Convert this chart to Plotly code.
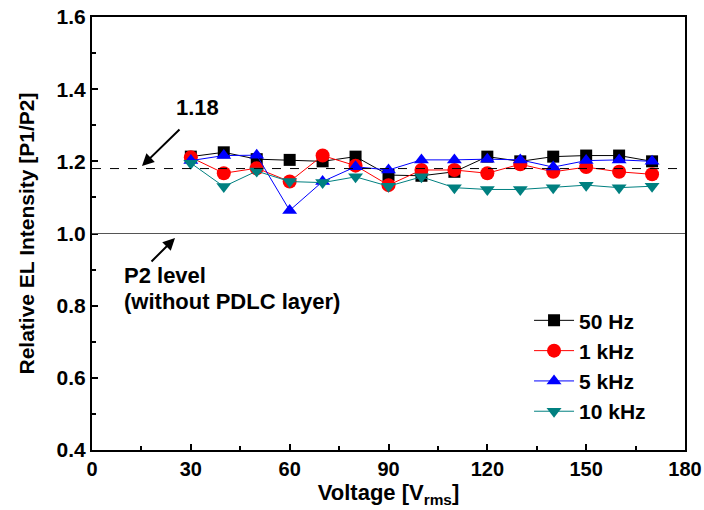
import plotly.graph_objects as go

voltage = [30, 40, 50, 60, 70, 80, 90, 100, 110, 120, 130, 140, 150, 160, 170]
hz50 = [1.213, 1.225, 1.206, 1.204, 1.200, 1.213, 1.162, 1.160, 1.171, 1.213, 1.200, 1.213, 1.216, 1.216, 1.200]
khz1 = [1.211, 1.167, 1.181, 1.144, 1.216, 1.188, 1.134, 1.176, 1.176, 1.167, 1.192, 1.171, 1.184, 1.171, 1.164]
khz5 = [1.202, 1.216, 1.217, 1.064, 1.144, 1.185, 1.176, 1.204, 1.204, 1.206, 1.204, 1.184, 1.202, 1.204, 1.200]
khz10 = [1.195, 1.130, 1.173, 1.144, 1.141, 1.157, 1.131, 1.157, 1.127, 1.122, 1.122, 1.127, 1.134, 1.127, 1.131]
names = ["50 Hz", "1 kHz", "5 kHz", "10 kHz"]
ref_level = 1.18
p2_level = 1.0
x_ticks = [0, 30, 60, 90, 120, 150, 180]
y_ticks = [0.4, 0.6, 0.8, 1.0, 1.2, 1.4, 1.6]

FONT = "Liberation Sans, Arial, sans-serif"

series = [
    (hz50, names[0], "black", "square", 12),
    (khz1, names[1], "red", "circle", 14),
    (khz5, names[2], "blue", "triangle-up", 13),
    (khz10, names[3], "#008080", "triangle-down", 13),
]

fig = go.Figure()
for vals, nm, col, sym, sz in series:
    fig.add_trace(go.Scatter(
        x=voltage, y=vals, name=nm, mode="lines+markers",
        line=dict(color=col, width=1),
        marker=dict(symbol=sym, size=sz, color=col, line=dict(width=0)),
    ))

fig.add_shape(type="line", x0=0, x1=180, y0=ref_level, y1=ref_level, xref="x", yref="y",
              line=dict(color="black", width=1, dash="dash"))
fig.add_shape(type="line", x0=0, x1=180, y0=p2_level, y1=p2_level, xref="x", yref="y",
              line=dict(color="#555555", width=1))

def px2x(px):
    return (px - 92) / 593 * 180

def py2y(py):
    return 1.0 + (233.5 - py) / 361

tf = dict(family=FONT, size=22, color="black")
fig.add_annotation(x=px2x(142), y=py2y(166), ax=39, ay=-38, xref="x", yref="y", text="",
                   showarrow=True, arrowhead=2, arrowsize=1.2, arrowwidth=2, arrowcolor="black")
fig.add_annotation(x=px2x(175), y=py2y(238), ax=-25, ay=25, xref="x", yref="y", text="",
                   showarrow=True, arrowhead=2, arrowsize=1.2, arrowwidth=2, arrowcolor="black")
fig.add_annotation(x=px2x(197), y=py2y(107), xref="x", yref="y",
                   text="<b>1.18</b>", showarrow=False, font=tf)
fig.add_annotation(x=px2x(122), y=py2y(276), xref="x", yref="y",
                   xanchor="left", text="<b>P2 level</b>", showarrow=False, font=tf)
fig.add_annotation(x=px2x(122), y=py2y(302), xref="x", yref="y",
                   xanchor="left", text="<b>(without PDLC layer)</b>", showarrow=False, font=tf)

fig.update_layout(
    width=704, height=510,
    margin=dict(l=92, r=19, t=17, b=60, autoexpand=False),
    paper_bgcolor="white", plot_bgcolor="white",
    font=dict(family=FONT, color="black"),
    showlegend=True,
    legend=dict(x=0.737, y=0.346, xanchor="left", yanchor="top",
                bgcolor="rgba(0,0,0,0)",
                font=dict(family=FONT, size=21, color="black", weight="bold"),
                tracegroupgap=0, itemwidth=40),
    xaxis=dict(range=[0, 180], tickvals=x_ticks, ticktext=[f"<b>{v}</b>" for v in x_ticks],
               automargin=False,
               ticks="inside", ticklen=6, tickwidth=1.5, tickcolor="black",
               minor=dict(dtick=15, tick0=0, ticks="inside", ticklen=4, tickwidth=1.5, tickcolor="black"),
               showline=True, linecolor="black", linewidth=2, mirror=True, showgrid=False, zeroline=False,
               tickfont=dict(family=FONT, size=20, color="black"),
               title=dict(text="<b>Voltage [V<sub>rms</sub>]</b>", font=dict(family=FONT, size=22, color="black"),
                          standoff=2)),
    yaxis=dict(range=[0.4, 1.6], tickvals=y_ticks, ticktext=[f"<b>{v:.1f}</b>" for v in y_ticks],
               automargin=False,
               ticks="inside", ticklen=6, tickwidth=1.5, tickcolor="black",
               minor=dict(dtick=0.1, tick0=0.4, ticks="inside", ticklen=4, tickwidth=1.5, tickcolor="black"),
               showline=True, linecolor="black", linewidth=2, mirror=True, showgrid=False, zeroline=False,
               tickfont=dict(family=FONT, size=21, color="black"),
               title=dict(text="<b>Relative EL Intensity [P1/P2]</b>", font=dict(family=FONT, size=21, color="black"),
                          standoff=16)),
)

fig.write_html("out.html", config={"displayModeBar": False},
               post_script="document.body.style.margin='0';document.body.style.overflow='hidden';")
